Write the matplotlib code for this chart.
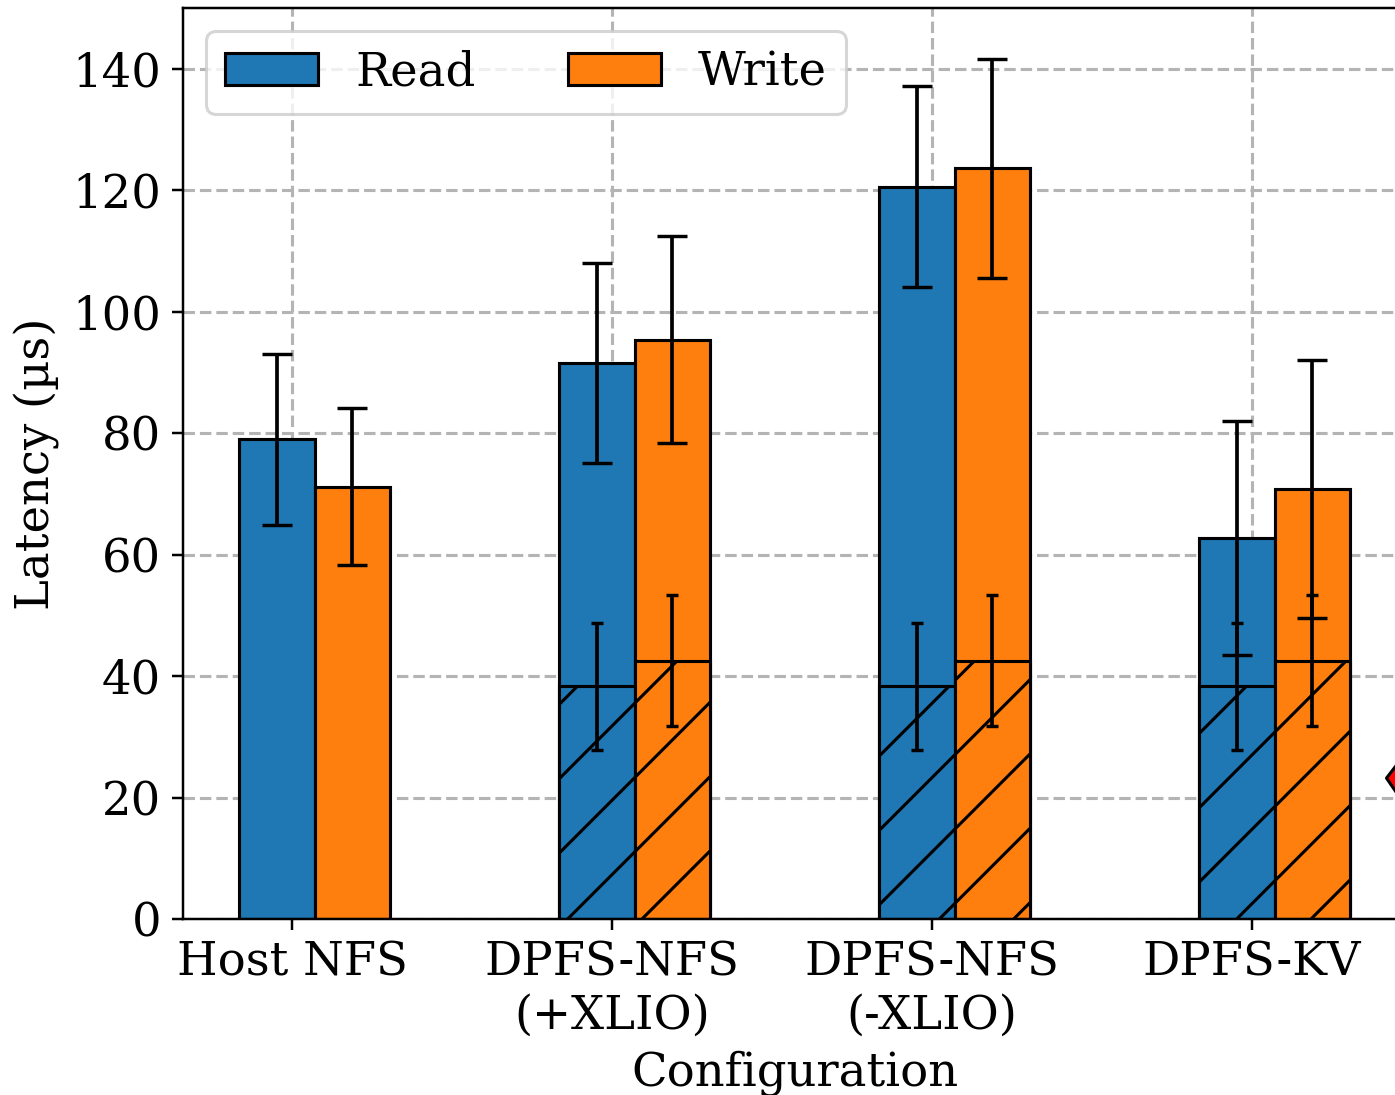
import numpy as np
import matplotlib
matplotlib.use('Agg')
import matplotlib.pyplot as plt

# latency per configuration (us), mean and std
configs = ['Host NFS', 'DPFS-NFS\n(+XLIO)', 'DPFS-NFS\n(-XLIO)', 'DPFS-KV']
read_mean = [79.0, 91.5, 120.6, 62.7]
read_std = [14.1, 16.5, 16.5, 19.3]
write_mean = [71.2, 95.4, 123.6, 70.8]
write_std = [12.9, 17.0, 18.0, 21.2]

# hatched part (no split for Host NFS)
read_inner = [np.nan, 38.3, 38.3, 38.3]
read_inner_std = [np.nan, 10.5, 10.5, 10.5]
write_inner = [np.nan, 42.5, 42.5, 42.5]
write_inner_std = [np.nan, 10.8, 10.8, 10.8]

plt.rcParams['font.family'] = 'DejaVu Serif'
plt.rcParams['font.size'] = 15

dpi = 223
fig = plt.figure(figsize=(1395 / dpi, 1095 / dpi), dpi=dpi)
ax = fig.add_axes([183 / 1395, 176 / 1095, 1224 / 1395, 911 / 1095])

x = np.arange(len(configs))
w = 0.235
xr = x - 0.2 * w
xw = x + 0.8 * w

ax.grid(True, linestyle='--', linewidth=1.0, color='#b4b4b4')
ax.set_axisbelow(True)

ax.bar(xr, read_mean, w, color='tab:blue', edgecolor='black', label='Read')
ax.bar(xw, write_mean, w, color='tab:orange', edgecolor='black', label='Write')
ax.errorbar(xr, read_mean, yerr=read_std, fmt='none', ecolor='black',
            elinewidth=1.2, capsize=5, capthick=1.1)
ax.errorbar(xw, write_mean, yerr=write_std, fmt='none', ecolor='black',
            elinewidth=1.2, capsize=5, capthick=1.1)

ax.bar(xr, read_inner, w, color='tab:blue', edgecolor='black', hatch='/')
ax.bar(xw, write_inner, w, color='tab:orange', edgecolor='black', hatch='/')
ax.errorbar(xr, read_inner, yerr=read_inner_std, fmt='none', ecolor='black',
            elinewidth=1.2, capsize=2, capthick=1.1)
ax.errorbar(xw, write_inner, yerr=write_inner_std, fmt='none', ecolor='black',
            elinewidth=1.2, capsize=2, capthick=1.1)

ax.annotate('', xy=(3.42, 23.2), xytext=(3.9, 22.5),
            arrowprops=dict(facecolor='red', edgecolor='black',
                            width=6, headwidth=22, headlength=8))

ax.set_xticks(x)
ax.set_xticklabels(configs)
ax.set_xlim(-0.3406, 3.484)
ax.set_ylim(0, 150)
ax.set_xlabel('Configuration')
ax.set_ylabel('Latency (µs)')
ax.legend(loc='upper left', ncol=2)

fig.savefig('out.png', dpi=dpi)
